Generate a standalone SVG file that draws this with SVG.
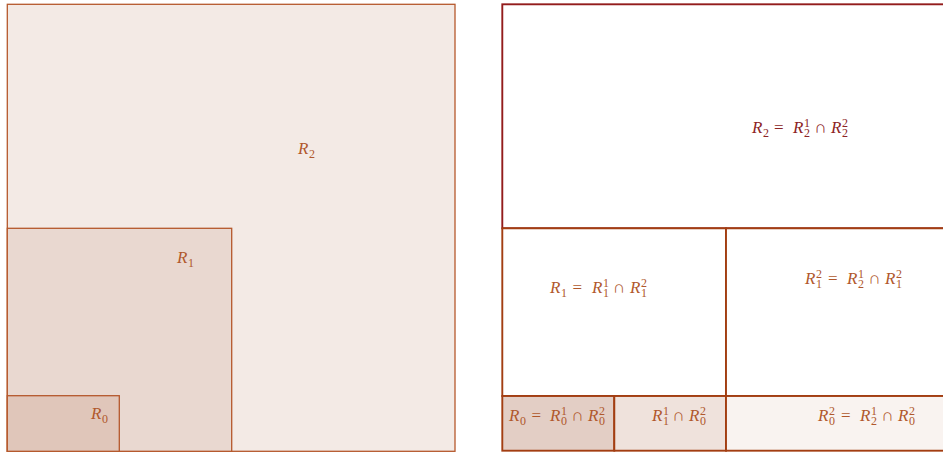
<svg xmlns="http://www.w3.org/2000/svg" width="943" height="452" viewBox="0 0 943 452">
<style>
.l{stroke:#B5582C;stroke-width:1.3}
.r{stroke:#A33E12;stroke-width:1.9}
.top{stroke:#931C1C;stroke-width:1.9}
text{font-family:"Liberation Serif","Times New Roman",serif;font-size:17px;fill:#B0582C}
.red{fill:#8C2424}
.i{font-style:italic}
.s{font-size:12px}
</style>
<rect width="943" height="452" fill="#ffffff"/>
<g id="left">
<g id="R2"><rect class="l" x="7.3" y="4.3" width="447.7" height="447" fill="#F3EAE5"/>
<text><tspan class="i" x="298" y="154">R</tspan><tspan class="s" x="309" y="157.5">2</tspan></text></g>
<g id="R1"><rect class="l" x="7.3" y="228.3" width="224.4" height="223" fill="#E9D8D0"/>
<text><tspan class="i" x="177" y="263">R</tspan><tspan class="s" x="188" y="266.5">1</tspan></text></g>
<g id="R0"><rect class="l" x="7.3" y="395.7" width="112" height="55.6" fill="#E0C6BA"/>
<text><tspan class="i" x="91" y="419">R</tspan><tspan class="s" x="102" y="422.5">0</tspan></text></g>
</g>
<g id="right">
<g id="R2top"><rect class="top" x="502.3" y="4.3" width="460" height="224" fill="#ffffff"/>
<text class="red"><tspan class="i" x="752" y="133">R</tspan><tspan class="s" x="763" y="136.5">2</tspan><tspan x="774" y="133">=</tspan><tspan class="i" x="793" y="133">R</tspan><tspan class="s" x="804" y="126.5">1</tspan><tspan class="s" x="804" y="136.5">2</tspan><tspan x="814.5" y="133">∩</tspan><tspan class="i" x="831" y="133">R</tspan><tspan class="s" x="842" y="126.5">2</tspan><tspan class="s" x="842" y="136.5">2</tspan></text></g>
<g id="R1cell"><rect class="r" x="502.3" y="228.3" width="223.7" height="167.7" fill="#ffffff"/>
<text><tspan class="i" x="550" y="293">R</tspan><tspan class="s" x="561" y="296.5">1</tspan><tspan x="572.5" y="293">=</tspan><tspan class="i" x="592" y="293">R</tspan><tspan class="s" x="603" y="286.5">1</tspan><tspan class="s" x="603" y="296.5">1</tspan><tspan x="613" y="293">∩</tspan><tspan class="i" x="630" y="293">R</tspan><tspan class="s" x="641" y="286.5">2</tspan><tspan class="s" x="641" y="296.5">1</tspan></text></g>
<g id="R12cell"><rect class="r" x="726" y="228.3" width="240" height="167.7" fill="#ffffff"/>
<text><tspan class="i" x="805" y="284">R</tspan><tspan class="s" x="816" y="277.5">2</tspan><tspan class="s" x="816" y="287.5">1</tspan><tspan x="828" y="284">=</tspan><tspan class="i" x="847" y="284">R</tspan><tspan class="s" x="858" y="277.5">1</tspan><tspan class="s" x="858" y="287.5">2</tspan><tspan x="868.5" y="284">∩</tspan><tspan class="i" x="885" y="284">R</tspan><tspan class="s" x="896" y="277.5">2</tspan><tspan class="s" x="896" y="287.5">1</tspan></text></g>
<g id="R0cell"><rect class="r" x="502.3" y="396" width="112" height="54.7" fill="#E3CEC5"/>
<text><tspan class="i" x="509" y="421">R</tspan><tspan class="s" x="520" y="424.5">0</tspan><tspan x="531.5" y="421">=</tspan><tspan class="i" x="550" y="421">R</tspan><tspan class="s" x="561" y="414.5">1</tspan><tspan class="s" x="561" y="424.5">0</tspan><tspan x="571.5" y="421">∩</tspan><tspan class="i" x="588" y="421">R</tspan><tspan class="s" x="599" y="414.5">2</tspan><tspan class="s" x="599" y="424.5">0</tspan></text></g>
<g id="R11R02cell"><rect class="r" x="614.3" y="396" width="111.7" height="54.7" fill="#EFE2DC"/>
<text><tspan class="i" x="652" y="421">R</tspan><tspan class="s" x="663" y="414.5">1</tspan><tspan class="s" x="663" y="424.5">1</tspan><tspan x="672.5" y="421">∩</tspan><tspan class="i" x="689" y="421">R</tspan><tspan class="s" x="700" y="414.5">2</tspan><tspan class="s" x="700" y="424.5">0</tspan></text></g>
<g id="R02cell"><rect class="r" x="726" y="396" width="240" height="54.7" fill="#F9F3F0"/>
<text><tspan class="i" x="818" y="421">R</tspan><tspan class="s" x="829" y="414.5">2</tspan><tspan class="s" x="829" y="424.5">0</tspan><tspan x="841" y="421">=</tspan><tspan class="i" x="860" y="421">R</tspan><tspan class="s" x="871" y="414.5">1</tspan><tspan class="s" x="871" y="424.5">2</tspan><tspan x="881.5" y="421">∩</tspan><tspan class="i" x="898" y="421">R</tspan><tspan class="s" x="909" y="414.5">2</tspan><tspan class="s" x="909" y="424.5">0</tspan></text></g>
</g>
<g id="connectors"/>
</svg>
